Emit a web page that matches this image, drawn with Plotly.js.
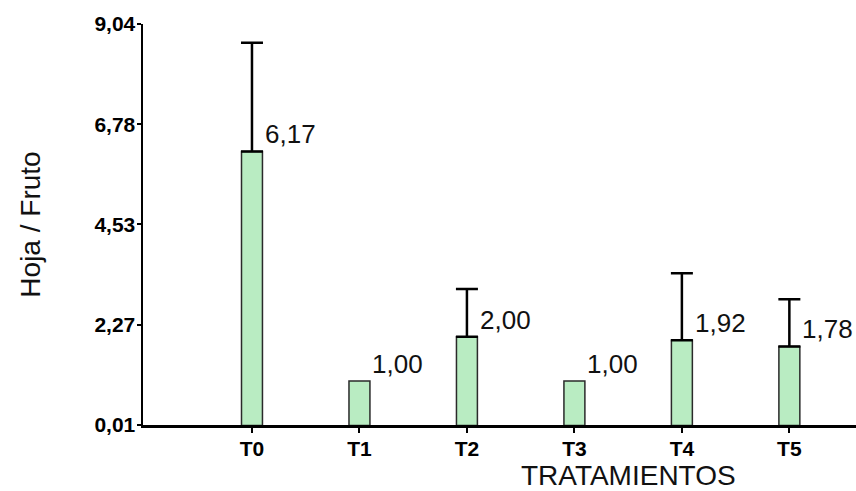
<!DOCTYPE html>
<html>
<head>
<meta charset="utf-8">
<script src="https://cdn.plot.ly/plotly-3.0.1.min.js"></script>
<style>html,body{margin:0;padding:0;background:#fff;}#chart{width:856px;height:491px;}</style>
</head>
<body>
<div id="chart"></div>
<script>
// Data
const categories = ["T0", "T1", "T2", "T3", "T4", "T5"];
const values = [6.17, 1.00, 2.00, 1.00, 1.92, 1.78];
const valueLabels = ["6,17", "1,00", "2,00", "1,00", "1,92", "1,78"];
const errorUp = [2.45, null, 1.07, null, 1.51, 1.06];
const yTickVals = [0.01, 2.27, 4.53, 6.78, 9.04];
const yTickText = ["0,01", "2,27", "4,53", "6,78", "9,04"];

const FONT = "Liberation Sans, Arial, sans-serif";

const trace = {
  type: "bar",
  x: categories,
  y: values,
  width: 0.195,
  marker: { color: "#b9ecc2", line: { color: "#2a2a2a", width: 1.5 } },
  error_y: {
    type: "data",
    symmetric: false,
    array: errorUp.map(v => (v === null ? NaN : v)),
    color: "#000",
    thickness: 2.5,
    width: 11
  },
  hoverinfo: "skip"
};

const annotations = categories.map((c, i) => ({
  x: c, y: values[i], xref: "x", yref: "y",
  text: valueLabels[i], showarrow: false,
  xanchor: "left", yanchor: "middle", xshift: 11, yshift: 17,
  font: { family: FONT, size: 26, color: "#111" }
}));
annotations.push({
  xref: "paper", yref: "paper", x: 0.6816, y: -0.127,
  xanchor: "center", yanchor: "middle", showarrow: false,
  text: "TRATAMIENTOS",
  font: { family: FONT, size: 28, color: "#111" }
});

const layout = {
  width: 856, height: 491,
  margin: { l: 143, r: 0, t: 24, b: 66 },
  paper_bgcolor: "#fff", plot_bgcolor: "#fff",
  showlegend: false,
  xaxis: {
    type: "category",
    range: [-1.014, 5.62],
    showline: true, linecolor: "#000", linewidth: 2.5,
    ticks: "outside", ticklen: 5, tickwidth: 2, tickcolor: "#000",
    ticklabelstandoff: -2,
    showgrid: false, zeroline: false,
    tickfont: { family: FONT, size: 21, color: "#000", weight: "bold" }
  },
  yaxis: {
    range: [0.01, 9.04],
    tickvals: yTickVals, ticktext: yTickText,
    showline: true, linecolor: "#000", linewidth: 2.5,
    ticks: "outside", ticklen: 4, tickwidth: 2, tickcolor: "#000",
    ticklabelstandoff: -3,
    showgrid: false, zeroline: false,
    tickfont: { family: FONT, size: 21, color: "#000", weight: "bold" },
    title: { text: "Hoja / Fruto", standoff: 46, font: { family: FONT, size: 28, color: "#111" } }
  },
  annotations: annotations
};

Plotly.newPlot("chart", [trace], layout, { displayModeBar: false, staticPlot: true });
</script>
</body>
</html>
